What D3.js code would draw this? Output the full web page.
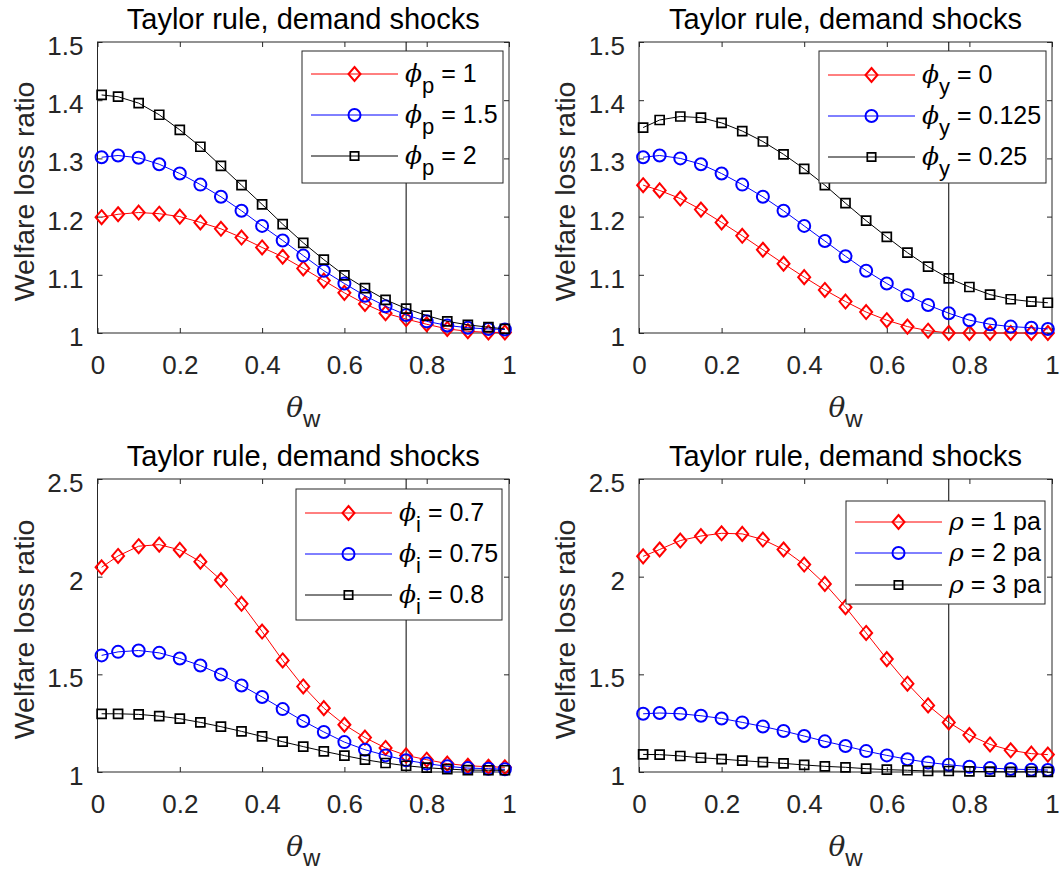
<!DOCTYPE html>
<html>
<head>
<meta charset="utf-8">
<script src="https://cdn.jsdelivr.net/npm/d3@7"></script>
<style>
  body { margin: 0; background: #fff; }
  text { font-family: "Liberation Sans", Arial, sans-serif; }
</style>
</head>
<body>
<svg id="chart" width="1060" height="870"></svg>
<script>
// wage stickiness grid
const theta = [0.01, 0.05, 0.10, 0.15, 0.20, 0.25, 0.30, 0.35, 0.40, 0.45, 0.50,
  0.55, 0.60, 0.65, 0.70, 0.75, 0.80, 0.85, 0.90, 0.95, 0.99]

// panel 1: phi_p
const phiP1 = [1.199, 1.204, 1.207, 1.205, 1.200, 1.190, 1.179, 1.164, 1.147, 1.131, 1.111,
  1.090, 1.069, 1.050, 1.034, 1.024, 1.015, 1.007, 1.003, 1.001, 1.001]
const phiP15 = [1.302, 1.305, 1.301, 1.290, 1.274, 1.255, 1.234, 1.210, 1.184, 1.159, 1.133,
  1.107, 1.085, 1.064, 1.046, 1.031, 1.020, 1.013, 1.009, 1.007, 1.006]
const phiP2 = [1.409, 1.406, 1.395, 1.375, 1.349, 1.320, 1.287, 1.254, 1.221, 1.187, 1.155,
  1.126, 1.099, 1.077, 1.057, 1.042, 1.030, 1.020, 1.014, 1.010, 1.007]

// panel 2: phi_y
const phiY0 = [1.254, 1.245, 1.231, 1.212, 1.190, 1.167, 1.143, 1.119, 1.096, 1.074, 1.054,
  1.036, 1.022, 1.011, 1.004, 1.000, 1.000, 1.000, 1.000, 1.000, 1.000]
const phiY0125 = [1.302, 1.305, 1.300, 1.290, 1.274, 1.255, 1.234, 1.210, 1.184, 1.158, 1.132,
  1.107, 1.085, 1.065, 1.048, 1.034, 1.022, 1.015, 1.011, 1.009, 1.007]
const phiY025 = [1.353, 1.366, 1.372, 1.370, 1.361, 1.347, 1.329, 1.307, 1.282, 1.254, 1.223,
  1.193, 1.165, 1.138, 1.114, 1.094, 1.079, 1.066, 1.058, 1.054, 1.052]

// panel 3: phi_i
const phiI07 = [2.048, 2.106, 2.156, 2.164, 2.137, 2.077, 1.983, 1.861, 1.719, 1.571, 1.438,
  1.327, 1.242, 1.176, 1.123, 1.085, 1.063, 1.043, 1.032, 1.027, 1.024]
const phiI075 = [1.597, 1.615, 1.622, 1.610, 1.581, 1.545, 1.499, 1.443, 1.384, 1.322, 1.261,
  1.205, 1.153, 1.114, 1.085, 1.060, 1.043, 1.029, 1.020, 1.017, 1.014]
const phiI08 = [1.298, 1.298, 1.295, 1.286, 1.273, 1.254, 1.232, 1.208, 1.182, 1.155, 1.130,
  1.106, 1.084, 1.063, 1.046, 1.032, 1.022, 1.015, 1.010, 1.009, 1.009]

// panel 4: rho
const rho1 = [2.104, 2.139, 2.185, 2.208, 2.222, 2.219, 2.190, 2.139, 2.062, 1.963, 1.844,
  1.712, 1.578, 1.452, 1.341, 1.254, 1.189, 1.141, 1.111, 1.094, 1.089]
const rho2 = [1.298, 1.302, 1.298, 1.288, 1.274, 1.254, 1.233, 1.210, 1.184, 1.157, 1.133,
  1.107, 1.085, 1.065, 1.049, 1.037, 1.027, 1.020, 1.015, 1.012, 1.010]
const rho3 = [1.090, 1.089, 1.082, 1.073, 1.066, 1.058, 1.051, 1.044, 1.036, 1.029, 1.024,
  1.017, 1.012, 1.009, 1.005, 1.005, 1.003, 1.002, 1.001, 1.001, 1.001]

const xTicks = [0, 0.2, 0.4, 0.6, 0.8, 1]
const yTicksTop = [1, 1.1, 1.2, 1.3, 1.4, 1.5]
const yTicksBottom = [1, 1.5, 2, 2.5]
const markLine = 0.75
const titleText = 'Taylor rule, demand shocks'
const yLabelText = 'Welfare loss ratio'

const colors = ['#ff0000', '#0000ff', '#000000']
const shapes = ['diamond', 'circle', 'square']
const axisColor = '#262626'

const panels = [
  {
    box: { left: 97.5, right: 509, top: 42, bottom: 333 },
    yDomain: [1, 1.5], yTicks: yTicksTop,
    series: [phiP1, phiP15, phiP2],
    sym: 'ϕ', sub: 'p', labels: ['= 1', '= 1.5', '= 2'],
    legend: { x: 302, y: 51, w: 201, rows: [74, 115, 156], h: 132 }
  },
  {
    box: { left: 639, right: 1052, top: 42, bottom: 333 },
    yDomain: [1, 1.5], yTicks: yTicksTop,
    series: [phiY0, phiY0125, phiY025],
    sym: 'ϕ', sub: 'y', labels: ['= 0', '= 0.125', '= 0.25'],
    legend: { x: 819, y: 51, w: 227, rows: [75, 116, 157], h: 132 }
  },
  {
    box: { left: 97.5, right: 509, top: 479, bottom: 772 },
    yDomain: [1, 2.5], yTicks: yTicksBottom,
    series: [phiI07, phiI075, phiI08],
    sym: 'ϕ', sub: 'i', labels: ['= 0.7', '= 0.75', '= 0.8'],
    legend: { x: 296, y: 489, w: 206, rows: [513, 554, 595], h: 131 }
  },
  {
    box: { left: 639, right: 1052, top: 479, bottom: 772 },
    yDomain: [1, 2.5], yTicks: yTicksBottom,
    series: [rho1, rho2, rho3],
    sym: 'ρ', sub: null, labels: ['= 1 pa', '= 2 pa', '= 3 pa'],
    legend: { x: 846, y: 501, w: 199, rows: [522, 553, 585], h: 103 }
  }
]

const svg = d3.select('#chart')
svg.append('rect').attr('width', 1060).attr('height', 870).attr('fill', '#fff')

const markerPath = (shape, big) => {
  if (shape === 'diamond') {
    return 'M0,-7L6,0L0,7L-6,0Z'
  }
  if (shape === 'square') {
    const h = big ? 4.5 : 4.2
    return `M${-h},${-h}H${h}V${h}H${-h}Z`
  }
  return null
}

const drawMarker = (g, shape, color, x, y) => {
  if (shape === 'circle') {
    g.append('circle').attr('cx', x).attr('cy', y).attr('r', 6)
      .attr('fill', 'none').attr('stroke', color).attr('stroke-width', 2)
  } else {
    g.append('path').attr('d', markerPath(shape, true))
      .attr('transform', `translate(${x},${y})`)
      .attr('fill', 'none').attr('stroke', color)
      .attr('stroke-width', shape === 'square' ? 1.7 : 2)
  }
}

const fmt = d => String(+d.toFixed(2))

panels.forEach(p => {
  const b = p.box
  const x = d3.scaleLinear().domain([0, 1]).range([b.left, b.right])
  const y = d3.scaleLinear().domain(p.yDomain).range([b.bottom, b.top])
  const g = svg.append('g')

  // axes
  const gx = g.append('g').attr('transform', `translate(0,${b.bottom})`)
    .call(d3.axisBottom(x).tickValues(xTicks).tickFormat(fmt).tickSize(-5).tickPadding(23))
  const gxTop = g.append('g').attr('transform', `translate(0,${b.top})`)
    .call(d3.axisTop(x).tickValues(xTicks).tickFormat('').tickSize(-5))
  const gy = g.append('g').attr('transform', `translate(${b.left},0)`)
    .call(d3.axisLeft(y).tickValues(p.yTicks).tickFormat(fmt).tickSize(-5).tickPadding(14))
  const gyRight = g.append('g').attr('transform', `translate(${b.right},0)`)
    .call(d3.axisRight(y).tickValues(p.yTicks).tickFormat('').tickSize(-5))
  ;[gx, gxTop, gy, gyRight].forEach(a => {
    a.select('.domain').remove()
    a.selectAll('line').attr('stroke', axisColor)
    a.selectAll('text').attr('fill', axisColor).attr('font-size', 26)
      .attr('font-family', '"Liberation Sans", Arial, sans-serif')
  })
  gx.selectAll('text').attr('dy', '0.71em')
  gy.selectAll('text').attr('dy', '0.48em')

  g.append('rect').attr('x', b.left).attr('y', b.top)
    .attr('width', b.right - b.left).attr('height', b.bottom - b.top)
    .attr('fill', 'none').attr('stroke', axisColor).attr('stroke-width', 1)

  // reference line
  g.append('line').attr('x1', x(markLine)).attr('x2', x(markLine))
    .attr('y1', y(p.yDomain[0])).attr('y2', y(p.yDomain[1]))
    .attr('stroke', '#000').attr('stroke-width', 1)

  // series
  const line = d3.line().x((d, i) => x(theta[i])).y(d => y(d))
  p.series.forEach((vals, k) => {
    g.append('path').datum(vals).attr('d', line)
      .attr('fill', 'none').attr('stroke', colors[k]).attr('stroke-width', 1)
    vals.forEach((v, i) => drawMarker(g, shapes[k], colors[k], x(theta[i]), y(v)))
  })

  // titles
  const cx = (b.left + b.right) / 2
  g.append('text').attr('x', cx).attr('y', b.top - 13)
    .attr('text-anchor', 'middle').attr('font-size', 29).attr('fill', '#000')
    .text(titleText)
  g.append('text')
    .attr('transform', `translate(${b.left - 64},${(b.top + b.bottom) / 2 + 4}) rotate(-90)`)
    .attr('text-anchor', 'middle').attr('font-size', 28.5).attr('fill', axisColor)
    .text(yLabelText)
  const xl = g.append('text').attr('x', cx).attr('y', b.bottom + 84)
    .attr('text-anchor', 'middle').attr('fill', axisColor).attr('font-size', 28)
  xl.append('tspan').attr('font-style', 'italic')
    .attr('font-family', '"DejaVu Serif", serif').text('θ')
  xl.append('tspan').attr('dy', 10).attr('font-size', 24).text('w')

  // legend
  const L = p.legend
  const lg = g.append('g')
  lg.append('rect').attr('x', L.x).attr('y', L.y).attr('width', L.w).attr('height', L.h)
    .attr('fill', '#fff').attr('stroke', axisColor).attr('stroke-width', 1)
  L.rows.forEach((ry, k) => {
    const x0 = L.x + 9
    const x1 = x0 + 87
    lg.append('line').attr('x1', x0).attr('x2', x1).attr('y1', ry).attr('y2', ry)
      .attr('stroke', colors[k]).attr('stroke-width', 1)
    if (shapes[k] === 'square') {
      lg.append('path').attr('d', markerPath('square', false))
        .attr('transform', `translate(${(x0 + x1) / 2},${ry})`)
        .attr('fill', 'none').attr('stroke', colors[k]).attr('stroke-width', 1.7)
    } else {
      drawMarker(lg, shapes[k], colors[k], (x0 + x1) / 2, ry)
    }
    const t = lg.append('text').attr('x', x1 + 7).attr('y', ry + 8)
      .attr('font-size', 25).attr('fill', '#000')
    t.append('tspan').attr('font-style', 'italic')
      .attr('font-family', '"DejaVu Serif", serif').text(p.sym)
    if (p.sub) {
      t.append('tspan').attr('dy', 11).attr('font-size', 22).text(p.sub)
      t.append('tspan').attr('dy', -11).text('\u00a0' + p.labels[k])
    } else {
      t.append('tspan').text('\u00a0' + p.labels[k])
    }
  })
})
</script>
</body>
</html>
